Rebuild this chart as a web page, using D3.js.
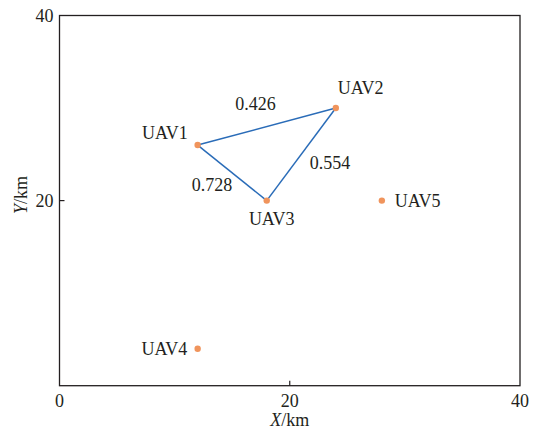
<!DOCTYPE html>
<html>
<head>
<meta charset="utf-8">
<script src="https://cdn.jsdelivr.net/npm/d3@7"></script>
<style>
  html, body { margin: 0; padding: 0; background: #fff; }
  text { font-family: "Liberation Serif", "Times New Roman", serif; fill: #231f20; }
</style>
</head>
<body>
<svg id="chart" width="537" height="429"></svg>
<script>
// UAV positions (km)
const uavNames = ["UAV1", "UAV2", "UAV3", "UAV4", "UAV5"];
const uavX = [12, 24, 18, 12, 28];
const uavY = [26, 30, 20, 4, 20];

// Communication links between UAVs and their weights
const linkFrom = ["UAV1", "UAV2", "UAV3"];
const linkTo = ["UAV2", "UAV3", "UAV1"];
const linkWeights = ["0.426", "0.554", "0.728"];

const xTicks = [0, 20, 40];
const yTicks = [20, 40];

const svg = d3.select("#chart");
const plotLeft = 59.5, plotRight = 520, plotTop = 15.5, plotBottom = 385.7;
const fs = 18;

const x = d3.scaleLinear().domain([0, 40]).range([plotLeft, plotRight]);
const y = d3.scaleLinear().domain([0, 40]).range([plotBottom, plotTop]);

const pos = {};
uavNames.forEach((n, i) => pos[n] = { x: uavX[i], y: uavY[i] });

// Frame
svg.append("rect")
  .attr("x", plotLeft).attr("y", plotTop)
  .attr("width", plotRight - plotLeft).attr("height", plotBottom - plotTop)
  .attr("fill", "none").attr("stroke", "#231f20").attr("stroke-width", 1.3);

// Inward ticks on the frame
svg.append("g").selectAll("line").data(xTicks.filter(d => d > 0 && d < 40)).join("line")
  .attr("x1", d => x(d)).attr("x2", d => x(d))
  .attr("y1", plotBottom).attr("y2", plotBottom - 5)
  .attr("stroke", "#231f20").attr("stroke-width", 1.2);
svg.append("g").selectAll("line").data(yTicks.filter(d => d > 0 && d < 40)).join("line")
  .attr("x1", plotLeft).attr("x2", plotLeft + 5)
  .attr("y1", d => y(d)).attr("y2", d => y(d))
  .attr("stroke", "#231f20").attr("stroke-width", 1.2);

// Tick labels
svg.append("g").selectAll("text").data(xTicks).join("text")
  .attr("x", d => x(d)).attr("y", plotBottom + 21.5)
  .attr("text-anchor", "middle").attr("font-size", fs)
  .text(d => d);
svg.append("g").selectAll("text").data(yTicks).join("text")
  .attr("x", plotLeft - 6).attr("y", d => y(d) + 6)
  .attr("text-anchor", "end").attr("font-size", fs)
  .text(d => d);

// Axis titles
const xt = svg.append("text")
  .attr("x", x(20)).attr("y", 426)
  .attr("text-anchor", "middle").attr("font-size", fs);
xt.append("tspan").attr("font-style", "italic").text("X");
xt.append("tspan").text("/km");

const yt = svg.append("text")
  .attr("transform", `translate(27,195) rotate(-90)`)
  .attr("text-anchor", "middle").attr("font-size", fs);
yt.append("tspan").attr("font-style", "italic").text("Y");
yt.append("tspan").text("/km");

// Links
svg.append("g").selectAll("line").data(linkFrom).join("line")
  .attr("x1", (d) => x(pos[d].x)).attr("y1", (d) => y(pos[d].y))
  .attr("x2", (d, i) => x(pos[linkTo[i]].x)).attr("y2", (d, i) => y(pos[linkTo[i]].y))
  .attr("stroke", "#2a6cb8").attr("stroke-width", 1.5);

// Link weight labels
const weightPos = [[255.5, 110], [330, 169], [212, 191]];
svg.append("g").selectAll("text").data(linkWeights).join("text")
  .attr("x", (d, i) => weightPos[i][0]).attr("y", (d, i) => weightPos[i][1])
  .attr("text-anchor", "middle").attr("font-size", fs)
  .text(d => d);

// UAV markers
svg.append("g").selectAll("circle").data(uavNames).join("circle")
  .attr("cx", d => x(pos[d].x)).attr("cy", d => y(pos[d].y))
  .attr("r", 3.2).attr("fill", "#f0945c");

// UAV labels
const labelOffset = {
  UAV1: [-10, -6, "end"],
  UAV2: [2, -14, "start"],
  UAV3: [5, 24, "middle"],
  UAV4: [-10.5, 6, "end"],
  UAV5: [13, 6, "start"]
};
svg.append("g").selectAll("text").data(uavNames).join("text")
  .attr("x", d => x(pos[d].x) + labelOffset[d][0])
  .attr("y", d => y(pos[d].y) + labelOffset[d][1])
  .attr("text-anchor", d => labelOffset[d][2])
  .attr("font-size", fs)
  .text(d => d);
</script>
</body>
</html>
